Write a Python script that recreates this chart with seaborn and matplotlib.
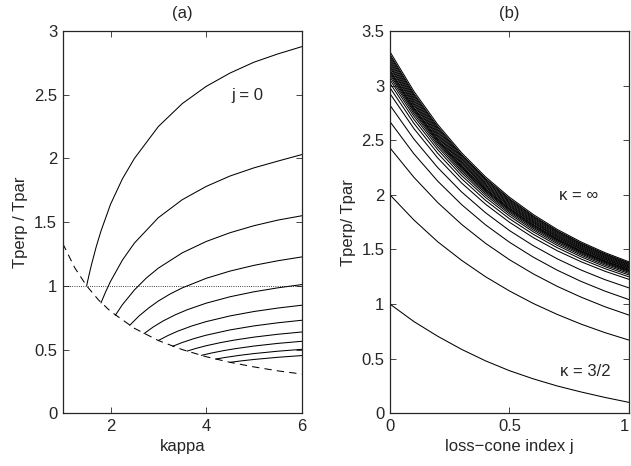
import numpy as np
import pandas as pd
import seaborn as sns
import matplotlib.pyplot as plt
from matplotlib.ticker import FuncFormatter

# ---- (a) Tperp/Tpar vs kappa, one curve per loss-cone index ----
j_a = [0.0, 0.1, 0.2, 0.3, 0.4, 0.5, 0.6, 0.7, 0.8, 0.9, 1.0]
kappa_a = [
    [1.5, 1.55, 1.6, 1.7, 1.8, 2.0, 2.25, 2.5, 3.0, 3.5, 4.0, 4.5, 5.0, 5.5, 6.0],
    [1.8, 1.9, 2.0, 2.25, 2.5, 3.0, 3.5, 4.0, 4.5, 5.0, 5.5, 6.0],
    [2.1, 2.25, 2.5, 2.75, 3.0, 3.5, 4.0, 4.5, 5.0, 5.5, 6.0],
    [2.4, 2.6, 2.8, 3.0, 3.25, 3.5, 4.0, 4.5, 5.0, 5.5, 6.0],
    [2.7, 2.9, 3.1, 3.35, 3.6, 4.0, 4.5, 5.0, 5.5, 6.0],
    [3.0, 3.2, 3.4, 3.7, 4.0, 4.5, 5.0, 5.5, 6.0],
    [3.3, 3.5, 3.75, 4.0, 4.5, 5.0, 5.5, 6.0],
    [3.6, 3.8, 4.0, 4.3, 4.6, 5.0, 5.5, 6.0],
    [3.9, 4.1, 4.35, 4.6, 5.0, 5.5, 6.0],
    [4.2, 4.4, 4.7, 5.0, 5.5, 6.0],
    [4.5, 4.75, 5.0, 5.5, 6.0],
]
tr_a = [
    [1.0, 1.085, 1.164, 1.306, 1.43, 1.64, 1.841, 2.0, 2.25, 2.43, 2.565, 2.67, 2.755, 2.82, 2.877],
    [0.866, 0.955, 1.035, 1.203, 1.336, 1.535, 1.676, 1.78, 1.862, 1.926, 1.979, 2.03],
    [0.769, 0.853, 0.968, 1.062, 1.139, 1.259, 1.348, 1.417, 1.472, 1.516, 1.55],
    [0.69, 0.765, 0.827, 0.881, 0.937, 0.984, 1.059, 1.116, 1.161, 1.197, 1.227],
    [0.625, 0.679, 0.7245, 0.772, 0.812, 0.864, 0.9145, 0.9535, 0.9846, 1.01],
    [0.571, 0.61, 0.6436, 0.6853, 0.7194, 0.7642, 0.7987, 0.8259, 0.848],
    [0.526, 0.5555, 0.5867, 0.6128, 0.6543, 0.6857, 0.7102, 0.73],
    [0.488, 0.5105, 0.53, 0.5546, 0.5751, 0.5977, 0.6201, 0.638],
    [0.4545, 0.472, 0.4907, 0.5066, 0.5277, 0.5485, 0.565],
    [0.4255, 0.4383, 0.4548, 0.4686, 0.4872, 0.502],
    [0.4, 0.412, 0.4224, 0.4395, 0.453],
]
# dashed boundary (minimum kappa for each j)
kappa_dash = [1.0, 1.25, 1.5, 1.75, 2.0, 2.5, 3.0, 3.5, 4.0, 4.5, 5.0, 5.5, 6.0]
tr_dash = [1.333, 1.143, 1.0, 0.889, 0.8, 0.667, 0.571, 0.5, 0.444, 0.4, 0.364, 0.333, 0.308]

# ---- (b) Tperp/Tpar vs loss-cone index j, one curve per kappa ----
j_b = [0.0, 0.1, 0.2, 0.3, 0.4, 0.5, 0.6, 0.7, 0.8, 0.9, 1.0]
kappa_b = ['1.5', '2.5', '3.5', '4.5', '5.5', '6.5', '7.5', '8.5', '9.5', '10.5', '11.5',
           '12.5', '13.5', '14.5', '16.5', '18.5', '21.5', '25.5', '31.5', '41.5',
           '61.5', '101.5', 'inf']
tr_b = [
    [1.00, 0.84, 0.705, 0.585, 0.48, 0.39, 0.315, 0.25, 0.195, 0.145, 0.10],
    [2.00, 1.77, 1.57, 1.40, 1.25, 1.12, 1.005, 0.905, 0.816, 0.738, 0.67],
    [2.43, 2.161, 1.929, 1.729, 1.556, 1.406, 1.276, 1.162, 1.063, 0.975, 0.899],
    [2.67, 2.376, 2.125, 1.910, 1.725, 1.566, 1.429, 1.310, 1.207, 1.118, 1.041],
    [2.82, 2.511, 2.249, 2.026, 1.836, 1.673, 1.534, 1.414, 1.311, 1.223, 1.148],
    [2.927, 2.607, 2.337, 2.108, 1.914, 1.749, 1.608, 1.488, 1.387, 1.300, 1.226],
    [2.981, 2.655, 2.380, 2.147, 1.949, 1.781, 1.638, 1.516, 1.412, 1.324, 1.249],
    [3.022, 2.691, 2.413, 2.176, 1.976, 1.806, 1.661, 1.537, 1.432, 1.342, 1.266],
    [3.054, 2.720, 2.438, 2.200, 1.997, 1.825, 1.678, 1.553, 1.447, 1.356, 1.280],
    [3.080, 2.743, 2.459, 2.218, 2.014, 1.840, 1.692, 1.566, 1.459, 1.368, 1.291],
    [3.101, 2.762, 2.476, 2.233, 2.028, 1.853, 1.704, 1.577, 1.469, 1.377, 1.299],
    [3.118, 2.777, 2.489, 2.246, 2.039, 1.863, 1.713, 1.586, 1.477, 1.385, 1.306],
    [3.133, 2.790, 2.501, 2.256, 2.049, 1.872, 1.722, 1.593, 1.484, 1.391, 1.313],
    [3.146, 2.802, 2.512, 2.266, 2.057, 1.880, 1.729, 1.600, 1.490, 1.397, 1.318],
    [3.166, 2.820, 2.528, 2.280, 2.070, 1.892, 1.740, 1.610, 1.500, 1.406, 1.327],
    [3.182, 2.834, 2.540, 2.292, 2.081, 1.901, 1.749, 1.618, 1.507, 1.413, 1.333],
    [3.200, 2.850, 2.555, 2.305, 2.092, 1.912, 1.758, 1.627, 1.516, 1.421, 1.341],
    [3.218, 2.866, 2.569, 2.318, 2.104, 1.923, 1.768, 1.636, 1.524, 1.429, 1.348],
    [3.236, 2.882, 2.584, 2.331, 2.116, 1.934, 1.778, 1.646, 1.533, 1.437, 1.356],
    [3.254, 2.898, 2.598, 2.344, 2.128, 1.944, 1.788, 1.655, 1.541, 1.445, 1.363],
    [3.272, 2.914, 2.612, 2.356, 2.140, 1.955, 1.798, 1.664, 1.550, 1.453, 1.371],
    [3.287, 2.927, 2.624, 2.367, 2.149, 1.964, 1.806, 1.671, 1.557, 1.460, 1.377],
    [3.310, 2.948, 2.643, 2.384, 2.164, 1.978, 1.819, 1.683, 1.568, 1.470, 1.387],
]

# long-form tables for seaborn
df_a = pd.DataFrame([(j, k, t) for j, ks, ts in zip(j_a, kappa_a, tr_a) for k, t in zip(ks, ts)],
                    columns=['j', 'kappa', 'tr'])
df_b = pd.DataFrame([(k, j, t) for k, ts in zip(kappa_b, tr_b) for j, t in zip(j_b, ts)],
                    columns=['kappa', 'j', 'tr'])

sns.set_style('ticks')
plt.rcParams['font.family'] = ['Liberation Sans', 'DejaVu Sans']

fig = plt.figure(figsize=(6.31, 4.66), dpi=100)
ax1 = fig.add_axes([0.0994, 0.1131, 0.3788, 0.8204])
ax2 = fig.add_axes([0.618, 0.1131, 0.3788, 0.8204])

fs = 12
lw = 0.75

# panel (a)
ax1.axhline(1.0, color='k', ls=':', lw=0.6)
sns.lineplot(x=kappa_dash, y=tr_dash, color='k', lw=lw, ax=ax1, sort=False,
             linestyle=(0, (7, 5)))
sns.lineplot(data=df_a, x='kappa', y='tr', units='j', estimator=None, sort=False,
             color='k', lw=lw, ax=ax1)
ax1.set_xlim(1, 6)
ax1.set_ylim(0, 3)
ax1.set_xticks([2, 4, 6])
ax1.set_yticks(np.arange(0, 3.01, 0.5))
ax1.set_xlabel('kappa', fontsize=fs, labelpad=4)
ax1.set_ylabel('Tperp / Tpar', fontsize=fs, labelpad=4)
ax1.set_title('(a)', fontsize=fs, pad=9)
ax1.text(4.86, 2.49, 'j = 0', fontsize=fs, ha='center', va='center')

# panel (b)
sns.lineplot(data=df_b, x='j', y='tr', units='kappa', estimator=None, sort=False,
             color='k', lw=lw, ax=ax2)
ax2.set_xlim(0, 1)
ax2.set_ylim(0, 3.5)
ax2.set_xticks([0, 0.5, 1])
ax2.set_yticks(np.arange(0, 3.51, 0.5))
ax2.set_xlabel('loss\u2212cone index j', fontsize=fs, labelpad=4)
ax2.set_ylabel('Tperp/ Tpar', fontsize=fs, labelpad=4)
ax2.set_title('(b)', fontsize=fs, pad=9)
ax2.text(0.79, 1.99, '\u03ba = \u221e', fontsize=fs, ha='center', va='center')
ax2.text(0.818, 0.38, '\u03ba = 3/2', fontsize=fs, ha='center', va='center')

fmt = FuncFormatter(lambda v, p: f'{v:g}')
for ax in (ax1, ax2):
    ax.xaxis.set_major_formatter(fmt)
    ax.yaxis.set_major_formatter(fmt)
    ax.tick_params(direction='in', top=True, right=True, length=4, width=0.6,
                   labelsize=fs, pad=4)
    for s in ax.spines.values():
        s.set_linewidth(0.9)
        s.set_visible(True)
    ax.grid(False)

# last x tick label of panel (b) sits at the figure edge, as in the original
ax2.get_xticklabels()[-1].set_horizontalalignment('right')
ax2.get_xticklabels()[-1].set_x(1.0)

fig.savefig('out.png', dpi=100)
